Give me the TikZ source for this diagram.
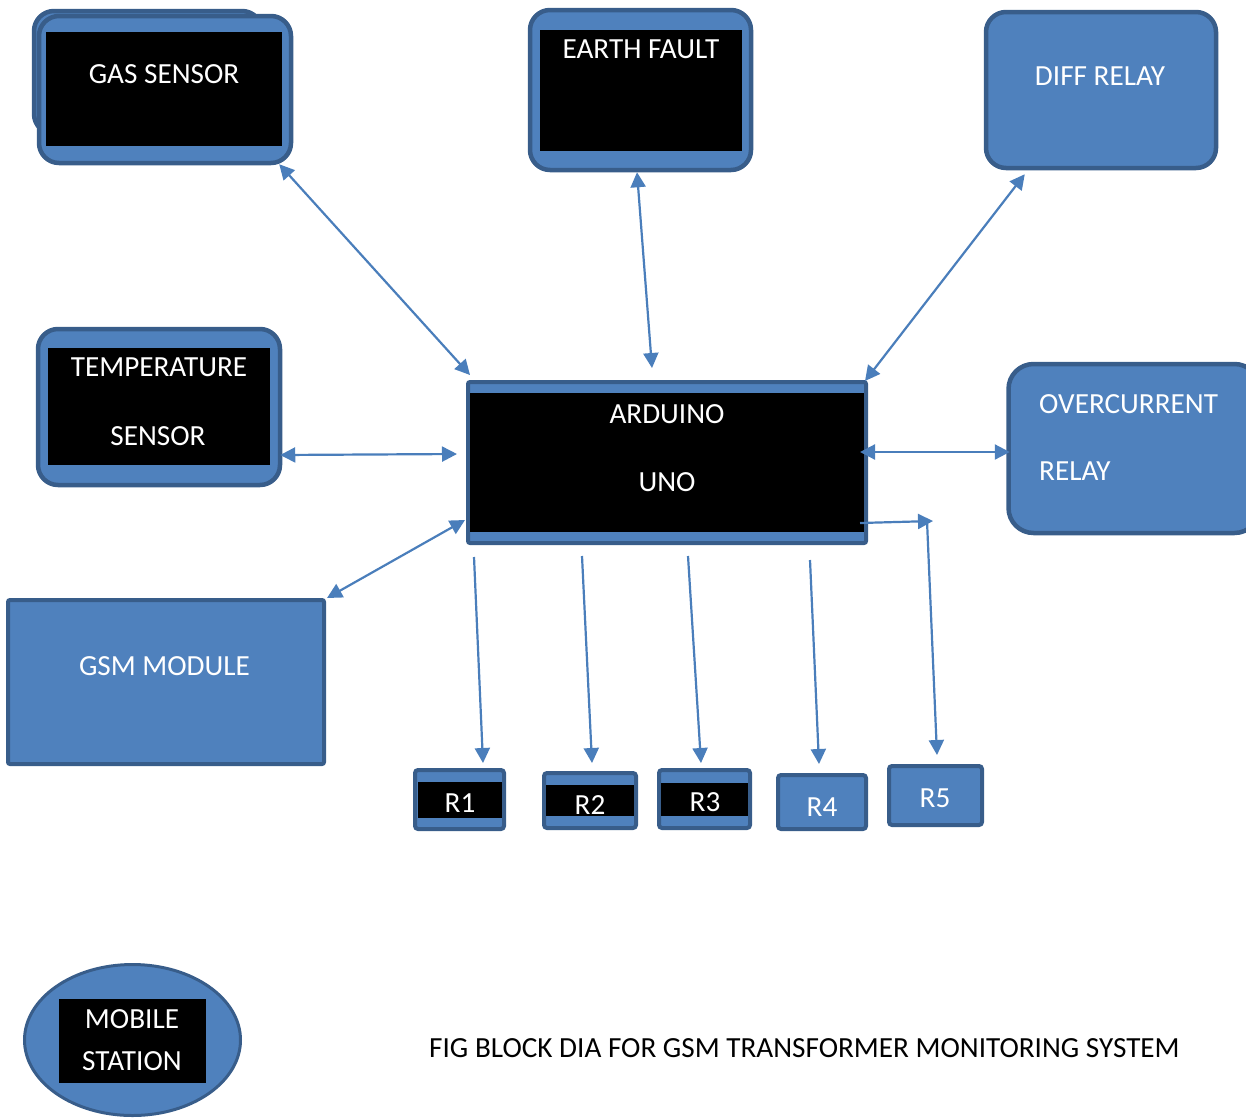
\documentclass[tikz,border=0pt]{standalone}
\usepackage{fontspec}
\setmainfont{Carlito}
\usetikzlibrary{arrows.meta,shapes.geometric}
\definecolor{boxblue}{HTML}{4F81BD}
\definecolor{edgeblue}{HTML}{385D8A}
\definecolor{linkblue}{HTML}{4A7EBB}

\begin{document}
\begin{tikzpicture}[x=1pt, y=-1pt,
    >={Triangle[length=15pt,width=15pt]},
    frame/.style={draw=edgeblue, fill=boxblue, line width=4.5pt, rounded corners=20pt, inner sep=0pt},
    block/.style={draw=edgeblue, fill=boxblue, line width=4pt, rounded corners=2pt, inner sep=0pt},
    txt/.style={text=white, inner sep=0pt, font=\fontsize{29.2}{34}\selectfont},
    link/.style={draw=linkblue, line width=2.2pt, <->},
    feed/.style={draw=linkblue, line width=2.2pt, ->}]

    \useasboundingbox (0,0) rectangle (1246,1119);

    % Gas sensor (two frames, one behind the other)
    \draw[draw=edgeblue, fill=boxblue, line width=4.5pt, rounded corners=20pt] (34,11) rectangle (262,134);
    \node[frame, minimum width=252pt, minimum height=147pt] (gas) at (165,89.5) {};
    \fill (46,32) rectangle (282,146);
    \node[txt] (gaslbl) at (164,74) {GAS SENSOR};

    % Earth fault
    \node[frame, minimum width=221pt, minimum height=160pt] (earth) at (640.5,90) {};
    \fill (540,30) rectangle (742,151);
    \node[txt] (earthlbl) at (641,49) {EARTH FAULT};

    % Diff relay
    \node[frame, minimum width=230pt, minimum height=156pt] (diff) at (1101,90) {};
    \node[txt] (difflbl) at (1100,76) {DIFF RELAY};

    % Temperature sensor
    \node[frame, minimum width=242pt, minimum height=156pt] (temp) at (159,407) {};
    \fill (48,348) rectangle (270,465);
    \node[txt] (templbl) at (159,367.5) {TEMPERATURE};
    \node[txt] (templblb) at (158,436) {SENSOR};

    % Arduino
    \node[block, minimum width=398pt, minimum height=161pt] (ard) at (667,462.5) {};
    \fill (470,393) rectangle (864,532);
    \node[txt] (ardlbl) at (667,414.5) {ARDUINO};
    \node[txt] (ardlblb) at (667,482.5) {UNO};

    % Overcurrent relay
    \node[frame, rounded corners=25pt, minimum width=251pt, minimum height=169pt] (oc) at (1134,448.5) {};
    \node[txt, anchor=west] (oclbl) at (1039,404) {OVERCURRENT};
    \node[txt, anchor=west] (oclblb) at (1039,471) {RELAY};

    % GSM module
    \node[block, minimum width=316pt, minimum height=164pt] (gsm) at (166,682) {};
    \node[txt] (gsmlbl) at (164.5,666.5) {GSM MODULE};

    % Relays R1..R5
    \node[block, rounded corners=3pt, minimum width=89pt, minimum height=59pt] (r1) at (459.5,799.5) {};
    \fill (418,782) rectangle (502,818);
    \node[txt] (r1lbl) at (460,803) {R1};

    \node[block, rounded corners=3pt, minimum width=92pt, minimum height=55pt] (r2) at (590,800.5) {};
    \fill (546,785) rectangle (634,816);
    \node[txt] (r2lbl) at (590,805) {R2};

    \node[block, rounded corners=3pt, minimum width=91pt, minimum height=58pt] (r3) at (704.5,799) {};
    \fill (661,783) rectangle (748,816);
    \node[txt] (r3lbl) at (705,802) {R3};

    \node[block, rounded corners=3pt, minimum width=88pt, minimum height=54pt] (r4) at (822,802) {};
    \node[txt] (r4lbl) at (822,807) {R4};

    \node[block, rounded corners=3pt, minimum width=93pt, minimum height=59pt] (r5) at (935.5,795.5) {};
    \node[txt] (r5lbl) at (935,798) {R5};

    % Mobile station
    \node[draw=edgeblue, fill=boxblue, line width=3pt, ellipse, inner sep=0pt,
          minimum width=216pt, minimum height=151pt] (mobile) at (132.5,1040) {};
    \fill (59,999) rectangle (206,1083);
    \node[txt] (moblbl) at (132,1019) {MOBILE};
    \node[txt] (moblblb) at (132,1061) {STATION};

    % Caption
    \node[txt, text=black] (caption) at (804.5,1048) {FIG BLOCK DIA FOR GSM TRANSFORMER MONITORING SYSTEM};

    % Links to the arduino
    \draw[link] ([xshift=-14pt,yshift=1pt]gas.south east) -- ([xshift=4pt,yshift=5pt]ard.north west);
    \draw[link] ([xshift=-3.5pt]earth.south) -- ([xshift=-15pt,yshift=12pt]ard.north);
    \draw[link] ([xshift=41pt,yshift=-4pt]diff.south west) -- ([xshift=-3pt,yshift=-1pt]ard.north east);
    \draw[link] ([xshift=-2pt,yshift=-48pt]temp.east) -- ([xshift=-9pt,yshift=8.5pt]ard.west);
    \draw[link] ([xshift=1pt]gsm.north east) -- ([xshift=-1pt,yshift=25pt]ard.south west);
    \draw[link] ([xshift=-8pt,yshift=10.5pt]ard.east) -- ([xshift=3.5pt,yshift=-3.5pt]oc.west);

    % Outputs to the relays
    \coordinate (d1) at (474,557);
    \coordinate (d2) at (582,556);
    \coordinate (d3) at (688,556);
    \coordinate (d4) at (810,560);
    \coordinate (turn) at (933,521);
    \coordinate (drop) at (927,521);
    \draw[feed] (d1) -- ([xshift=23.5pt,yshift=5pt]r1.north);
    \draw[feed] (d2) -- ([xshift=2pt,yshift=8pt]r2.north);
    \draw[feed] (d3) -- ([xshift=-3.5pt,yshift=5pt]r3.north);
    \draw[feed] (d4) -- ([xshift=-3pt,yshift=9pt]r4.north);
    \draw[feed] ([xshift=-8pt,yshift=22pt]ard.south east) -- (turn);
    \draw[feed] (drop) -- ([xshift=1.5pt,yshift=9pt]r5.north);

\end{tikzpicture}
\end{document}
